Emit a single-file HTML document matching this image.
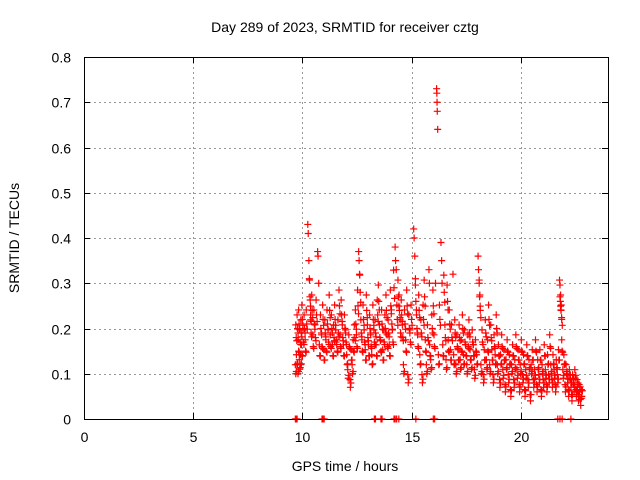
<!DOCTYPE html>
<html><head><meta charset="utf-8"><style>
body{margin:0;background:#fff;}
svg{display:block;font-family:"Liberation Sans",sans-serif;}
</style></head><body>
<svg id="chart" width="640" height="480" xmlns="http://www.w3.org/2000/svg">
<rect width="640" height="480" fill="#fff"/>
<text x="345" y="32" font-size="14" text-anchor="middle">Day 289 of 2023, SRMTID for receiver cztg</text>
<text x="345" y="471" font-size="14" text-anchor="middle">GPS time / hours</text>
<text transform="translate(19,238) rotate(-90)" font-size="14" text-anchor="middle">SRMTID / TECUs</text>
<g id="grid"></g>
<g id="axes"></g>
<g id="marks"></g>
<rect x="84.5" y="57.5" width="524" height="362" fill="none" stroke="#000"/>
</svg>
<script>
const xTicks=[0,5,10,15,20];
const yTicks=[0,0.1,0.2,0.3,0.4,0.5,0.6,0.7,0.8];
const yTickLabels=["0","0.1","0.2","0.3","0.4","0.5","0.6","0.7","0.8"];
const samples=[
[9.7,0.10],[9.72,0.18],[9.75,0.12],[9.78,0.20],[9.8,0.10],[9.83,0.15],[9.85,0.21],[9.88,0.11],[9.9,0.17],[9.93,0.12],[9.95,0.19],[9.98,0.14],
[10.0,0.22],[10.05,0.17],[10.1,0.20],[10.15,0.15],[10.2,0.21],[10.25,0.43],[10.27,0.41],[10.3,0.35],[10.32,0.31],[10.35,0.27],[10.38,0.23],[10.4,0.19],[10.45,0.24],[10.5,0.16],[10.55,0.21],
[10.6,0.18],[10.65,0.23],[10.7,0.37],[10.72,0.36],[10.75,0.30],[10.8,0.14],[10.85,0.20],[10.9,0.16],[10.95,0.22],[11.0,0.13],[11.05,0.19],[11.1,0.15],[11.15,0.21],[11.2,0.17],[11.25,0.24],
[11.3,0.16],[11.35,0.20],[11.4,0.14],[11.45,0.18],[11.5,0.22],[11.55,0.17],[11.6,0.15],[11.65,0.19],[11.7,0.25],[11.75,0.16],[11.8,0.23],[11.85,0.18],[11.9,0.14],[11.95,0.20],
[12.0,0.17],[12.05,0.12],[12.1,0.09],[12.15,0.16],[12.2,0.07],[12.25,0.13],[12.3,0.10],[12.35,0.15],[12.4,0.18],[12.45,0.21],[12.5,0.16],[12.55,0.25],[12.58,0.37],[12.6,0.35],[12.62,0.32],[12.65,0.28],
[12.7,0.19],[12.75,0.15],[12.8,0.22],[12.85,0.17],[12.9,0.13],[12.95,0.24],[13.0,0.18],[13.05,0.14],[13.1,0.20],[13.15,0.16],[13.2,0.12],[13.25,0.22],[13.3,0.17],[13.35,0.19],[13.4,0.14],[13.45,0.23],
[13.5,0.26],[13.55,0.18],[13.6,0.15],[13.65,0.21],[13.7,0.13],[13.75,0.17],[13.8,0.20],[13.85,0.24],[13.9,0.16],[13.95,0.19],[14.0,0.14],[14.05,0.25],[14.1,0.21],[14.15,0.17],[14.2,0.29],
[14.25,0.38],[14.27,0.35],[14.3,0.33],[14.35,0.22],[14.4,0.27],[14.45,0.24],[14.5,0.19],[14.55,0.23],[14.6,0.18],[14.65,0.10],[14.7,0.21],[14.75,0.15],[14.8,0.25],[14.85,0.08],[14.9,0.20],[14.95,0.17],
[15.0,0.22],[15.1,0.42],[15.12,0.40],[15.15,0.36],[15.18,0.31],[15.2,0.26],[15.25,0.20],[15.3,0.16],[15.35,0.24],[15.4,0.12],[15.45,0.19],[15.5,0.08],[15.55,0.22],[15.6,0.27],[15.65,0.15],
[15.7,0.10],[15.75,0.18],[15.8,0.33],[15.82,0.30],[15.85,0.14],[15.9,0.11],[15.95,0.20],[16.0,0.25],[16.05,0.16],[16.1,0.30],[16.15,0.73],[16.16,0.72],[16.17,0.70],[16.18,0.68],[16.2,0.64],
[16.25,0.12],[16.3,0.22],[16.35,0.39],[16.38,0.35],[16.4,0.30],[16.45,0.14],[16.5,0.28],[16.55,0.18],[16.6,0.11],[16.65,0.26],[16.7,0.15],[16.75,0.21],[16.8,0.13],[16.85,0.18],[16.9,0.32],
[16.95,0.12],[17.0,0.19],[17.05,0.10],[17.1,0.16],[17.15,0.13],[17.2,0.18],[17.25,0.11],[17.3,0.15],[17.35,0.20],[17.4,0.12],[17.45,0.17],[17.5,0.14],[17.55,0.10],[17.6,0.16],[17.65,0.19],
[17.7,0.13],[17.75,0.11],[17.8,0.17],[17.85,0.14],[17.9,0.09],[17.95,0.15],[18.0,0.12],[18.05,0.36],[18.07,0.33],[18.1,0.30],[18.12,0.27],[18.15,0.24],[18.2,0.10],[18.25,0.17],[18.3,0.08],
[18.35,0.13],[18.4,0.19],[18.45,0.11],[18.5,0.15],[18.55,0.22],[18.6,0.10],[18.65,0.18],[18.7,0.13],[18.75,0.08],[18.8,0.16],[18.85,0.12],[18.9,0.20],[18.95,0.10],[19.0,0.14],[19.05,0.07],
[19.1,0.12],[19.15,0.16],[19.2,0.09],[19.25,0.13],[19.3,0.06],[19.35,0.11],[19.4,0.15],[19.45,0.08],[19.5,0.12],[19.55,0.05],[19.6,0.10],[19.65,0.14],[19.7,0.07],[19.75,0.11],[19.8,0.16],
[19.85,0.09],[19.9,0.13],[19.95,0.06],[20.0,0.10],[20.05,0.15],[20.1,0.08],[20.15,0.12],[20.2,0.05],[20.25,0.09],[20.3,0.14],[20.35,0.07],[20.4,0.11],[20.45,0.04],[20.5,0.10],[20.55,0.13],
[20.6,0.07],[20.65,0.09],[20.7,0.15],[20.75,0.06],[20.8,0.11],[20.85,0.08],[20.9,0.13],[20.95,0.05],[21.0,0.10],[21.05,0.07],[21.1,0.14],[21.15,0.09],[21.2,0.06],[21.25,0.12],[21.3,0.08],
[21.35,0.16],[21.4,0.10],[21.45,0.07],[21.5,0.12],[21.55,0.09],[21.6,0.06],[21.65,0.11],[21.7,0.08],[21.75,0.13],[21.8,0.27],[21.82,0.26],[21.85,0.24],[21.88,0.22],[21.9,0.15],[21.95,0.09],
[22.0,0.12],[22.05,0.06],[22.1,0.10],[22.15,0.08],[22.2,0.05],[22.25,0.09],[22.3,0.07],[22.35,0.04],[22.4,0.08],[22.45,0.06],[22.5,0.09],[22.55,0.05],[22.6,0.07],[22.65,0.04],[22.7,0.06],
[22.75,0.03],[22.8,0.05]
];
const zeroTimes=[9.68,9.72,9.76,10.9,10.95,11.0,13.3,13.35,13.6,13.65,14.2,14.25,14.32,14.42,15.2,16.0,16.06,21.7,21.8,21.9,22.3];
const X=t=>84+t*(524/24);
const Y=v=>419-v*(362/0.8);
const NS="http://www.w3.org/2000/svg";
const grid=document.getElementById('grid'),axes=document.getElementById('axes'),marks=document.getElementById('marks');
function mk(tag,attrs,parent){const e=document.createElementNS(NS,tag);for(const k in attrs)e.setAttribute(k,attrs[k]);parent.appendChild(e);return e;}
xTicks.forEach(t=>{
  const x=Math.round(X(t))+0.5;
  if(t>0){const g=mk('line',{x1:x,x2:x,y1:57,y2:419,stroke:'#999','stroke-dasharray':'2,3'},grid);
  
  }
  mk('line',{x1:x,x2:x,y1:419,y2:413,stroke:'#000'},axes);
  mk('line',{x1:x,x2:x,y1:57,y2:63,stroke:'#000'},axes);
  const l=mk('text',{x:x,y:442,'font-size':14,'text-anchor':'middle'},axes);l.textContent=t;
  
  
});
yTicks.forEach((v,i)=>{
  const y=Math.round(Y(v))+0.5;
  if(i>0&&i<yTicks.length-1){const g=mk('line',{x1:84,x2:608,y1:y,y2:y,stroke:'#999','stroke-dasharray':'2,3'},grid);
  
  }
  mk('line',{x1:84,x2:90,y1:y,y2:y,stroke:'#000'},axes);
  mk('line',{x1:602,x2:608,y1:y,y2:y,stroke:'#000'},axes);
  const l=mk('text',{x:71,y:y+5,'font-size':14,'text-anchor':'end'},axes);l.textContent=yTickLabels[i];
  
  
});
function plus(t,v){
  const x=X(t),y=Y(v);
  const p=mk('path',{d:`M${x-3.5},${y}H${x+3.5}M${x},${y-3.5}V${y+3.5}`,stroke:'#f00','stroke-width':1.2,fill:'none'},marks);
  
  
}
samples.forEach(s=>plus(s[0],s[1]));
// neighbouring satellites' readings cluster around the main trace
samples.forEach(s=>{if(s[1]<0.3){plus(s[0]+0.025,s[1]*0.85+0.02);plus(s[0]-0.02,s[1]*1.1+0.01);}});
zeroTimes.forEach(t=>plus(t,0));
</script>
</body></html>
